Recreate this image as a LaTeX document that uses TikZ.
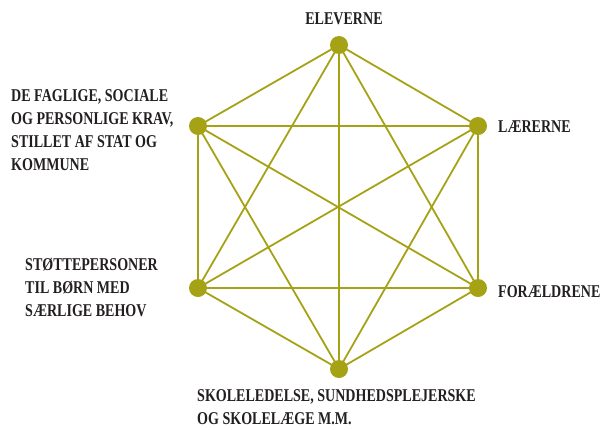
\documentclass[tikz,border=0pt]{standalone}
\usepackage{fontspec}
\usetikzlibrary{backgrounds}
\setmainfont{Liberation Serif}[FakeStretch=0.78]
\definecolor{olive}{RGB}{166,162,22}
\definecolor{ink}{RGB}{35,31,32}
\begin{document}
\begin{tikzpicture}[x=1pt,y=-1pt,
  dot/.style={circle,fill=olive,minimum size=18pt,inner sep=0pt},
  edge/.style={draw=olive,line width=1.8pt},
  lbl/.style={inner sep=0pt,text=ink,font=\fontsize{18}{23}\selectfont\bfseries,align=left}]
\useasboundingbox (0,0) rectangle (600,429);
\node[dot] (el) at (339,45) {};
\node[dot] (kr) at (198,126) {};
\node[dot] (la) at (478,126) {};
\node[dot] (st) at (198,288) {};
\node[dot] (fo) at (478,288) {};
\node[dot] (sk) at (339,369) {};
\begin{pgfonlayer}{background}
\foreach \a/\b in {el/kr,el/la,el/st,el/fo,el/sk,kr/la,kr/st,kr/fo,kr/sk,la/st,la/fo,la/sk,st/fo,st/sk,fo/sk}
  \draw[edge] (\a.center) -- (\b.center);
\end{pgfonlayer}
\node[lbl,anchor=base] (tel) at (344,24) {ELEVERNE};
\node[lbl,anchor=base west] (tla) at (498,132) {LÆRERNE};
\node[lbl,anchor=base west] (tfo) at (498,297) {FORÆLDRENE};
\node[lbl,anchor=base west] (tkr) at (11,170) {DE FAGLIGE, SOCIALE\\OG PERSONLIGE KRAV,\\STILLET AF STAT OG\\KOMMUNE};
\node[lbl,anchor=base west] (tst) at (25,316.6) {STØTTEPERSONER\\TIL BØRN MED\\SÆRLIGE BEHOV};
\node[lbl,anchor=base west] (tsk) at (197,424) {SKOLELEDELSE, SUNDHEDSPLEJERSKE\\OG SKOLELÆGE M.M.};
\end{tikzpicture}
\end{document}
